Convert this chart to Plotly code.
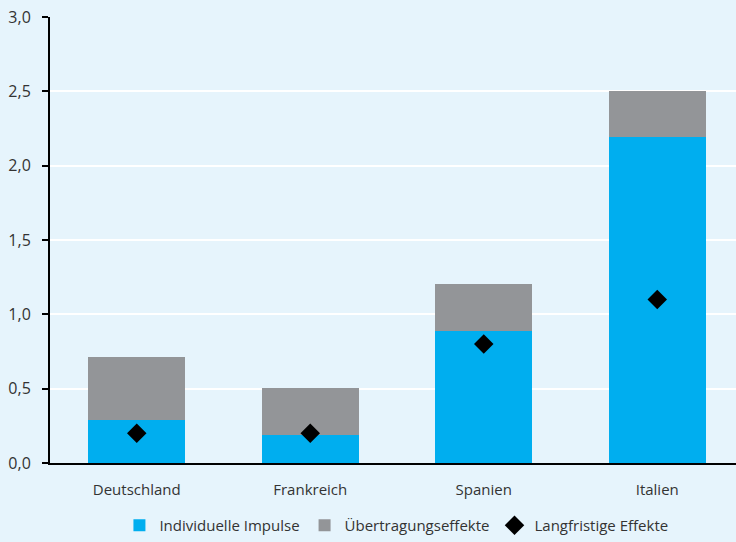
import plotly.graph_objects as go

laender = ["Deutschland", "Frankreich", "Spanien", "Italien"]
individuelle_impulse = [0.29, 0.19, 0.89, 2.19]
uebertragungseffekte = [0.42, 0.315, 0.315, 0.315]
langfristige_effekte = [0.2, 0.2, 0.8, 1.1]
y_ticks = [0, 0.5, 1.0, 1.5, 2.0, 2.5, 3.0]
y_labels = ["0,0", "0,5", "1,0", "1,5", "2,0", "2,5", "3,0"]

font = "'Open Sans', sans-serif"
bg = "#E6F4FC"
txt = "#333333"

fig = go.Figure()
fig.add_trace(go.Bar(x=laender, y=individuelle_impulse, name="Individuelle Impulse",
                     marker=dict(color="#00AEEF", line=dict(width=0)), width=0.56))
fig.add_trace(go.Bar(x=laender, y=uebertragungseffekte, name="Übertragungseffekte",
                     marker=dict(color="#939598", line=dict(width=0)), width=0.56))
fig.add_trace(go.Scatter(x=laender, y=langfristige_effekte, name="Langfristige Effekte",
                         mode="markers",
                         marker=dict(symbol="diamond", color="black", size=15)))

fig.update_layout(
    barmode="stack",
    width=736, height=542,
    margin=dict(l=50, r=0, t=17, b=79),
    paper_bgcolor=bg, plot_bgcolor=bg,
    font=dict(family=font, size=15, color=txt),
    showlegend=True,
    legend=dict(orientation="h", x=0.505, xanchor="center", yref="container",
                y=-0.005, yanchor="bottom",
                font=dict(size=15, color=txt), itemwidth=30,
                traceorder="normal", bgcolor="rgba(0,0,0,0)"),
    xaxis=dict(range=[-0.5, 3.454], showgrid=False, showline=True, linecolor="black",
               linewidth=2, ticks="", tickfont=dict(size=15), fixedrange=True,
               ticklabelstandoff=12),
    yaxis=dict(range=[0, 3.0], tickvals=y_ticks, ticktext=y_labels, showgrid=True,
               gridcolor="white", gridwidth=2, showline=True, linecolor="black",
               linewidth=2, ticks="outside", ticklen=6, tickwidth=2, tickcolor="black",
               zeroline=False, tickfont=dict(size=16), ticklabelstandoff=8),
)

fig.write_html("out.html")
